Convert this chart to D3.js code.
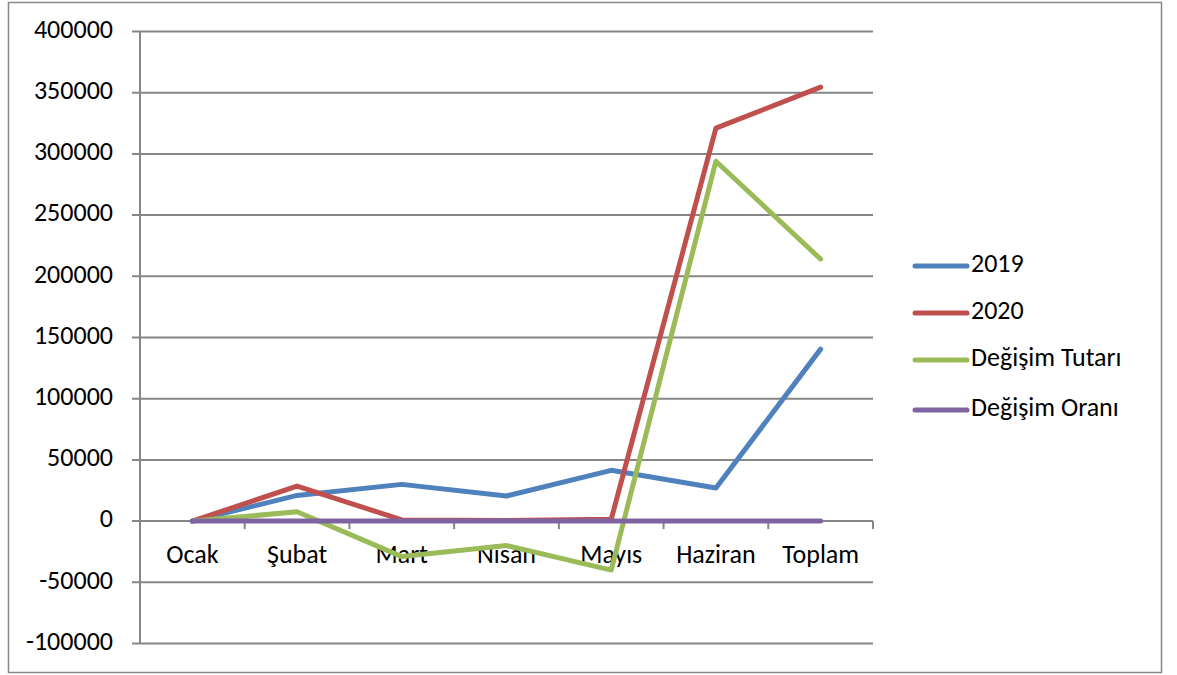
<!DOCTYPE html>
<html>
<head>
<meta charset="utf-8">
<script src="https://cdn.jsdelivr.net/npm/d3@7"></script>
<style>
  body { margin: 0; background: #fff; }
  text { font-family: Carlito, "Open Sans", sans-serif; fill: #000; }
</style>
</head>
<body>
<svg id="chart" width="1177" height="675"></svg>
<script>
// data
const months = ["Ocak", "Şubat", "Mart", "Nisan", "Mayıs", "Haziran", "Toplam"];
const v2019 = [0, 21000, 30000, 20500, 41500, 27000, 140500];
const v2020 = [0, 28600, 1000, 500, 1500, 321000, 354500];
const degisimTutari = [0, 7600, -29000, -20000, -40000, 294000, 214000];
const degisimOrani = [0, 0.36, -0.97, -0.98, -0.96, 10.9, 1.52];
const seriesNames = ["2019", "2020", "Değişim Tutarı", "Değişim Oranı"];
const yTicks = [-100000, -50000, 0, 50000, 100000, 150000, 200000, 250000, 300000, 350000, 400000];

const colors = ["#4F81BD", "#C0504D", "#9BBB59", "#8064A2"];
const seriesValues = [v2019, v2020, degisimTutari, degisimOrani];
const fontSize = 26;

const svg = d3.select("#chart");
const plotLeft = 140, plotRight = 873, plotTop = 31.5, plotBottom = 643.5;

// outer frame
svg.append("rect")
    .attr("x", 8.5).attr("y", 2.5)
    .attr("width", 1153).attr("height", 670)
    .attr("fill", "none")
    .attr("stroke", "#888")
    .attr("stroke-width", 1.5);

const x = d3.scaleBand().domain(months).range([plotLeft, plotRight]);
const y = d3.scaleLinear().domain([-100000, 400000]).range([plotBottom, plotTop]);

// grid lines
svg.append("g").selectAll("line")
    .data(yTicks)
    .join("line")
    .attr("x1", plotLeft - 8).attr("x2", plotRight)
    .attr("y1", d => y(d)).attr("y2", d => y(d))
    .attr("stroke", "#868686")
    .attr("stroke-width", 2);

// y axis line
svg.append("line")
    .attr("x1", plotLeft).attr("x2", plotLeft)
    .attr("y1", plotTop).attr("y2", plotBottom)
    .attr("stroke", "#868686")
    .attr("stroke-width", 2);

// y labels
svg.append("g").selectAll("text")
    .data(yTicks)
    .join("text")
    .attr("x", 113)
    .attr("y", d => y(d))
    .attr("text-anchor", "end")
    .attr("dominant-baseline", "middle")
    .attr("font-size", fontSize)
    .text(d => d);

// x tick marks below zero line
const xTickPos = months.map(m => x(m)).concat([plotRight]);
svg.append("g").selectAll("line")
    .data(xTickPos.slice(1))
    .join("line")
    .attr("x1", d => d).attr("x2", d => d)
    .attr("y1", y(0)).attr("y2", y(0) + 8)
    .attr("stroke", "#868686")
    .attr("stroke-width", 2);

// category labels
svg.append("g").selectAll("text")
    .data(months)
    .join("text")
    .attr("x", d => x(d) + x.bandwidth() / 2)
    .attr("y", 557)
    .attr("text-anchor", "middle")
    .attr("dominant-baseline", "middle")
    .attr("font-size", fontSize)
    .text(d => d);

// lines
const line = d3.line()
    .x((d, i) => x(months[i]) + x.bandwidth() / 2)
    .y(d => y(d));

seriesValues.forEach((vals, i) => {
    svg.append("path")
        .datum(vals)
        .attr("d", line)
        .attr("fill", "none")
        .attr("stroke", colors[i])
        .attr("stroke-width", 5)
        .attr("stroke-linejoin", "round")
        .attr("stroke-linecap", "round");
});

// legend
const legendY = [266, 313, 360, 410];
seriesNames.forEach((name, i) => {
    svg.append("line")
        .attr("x1", 915).attr("x2", 967)
        .attr("y1", legendY[i]).attr("y2", legendY[i])
        .attr("stroke", colors[i])
        .attr("stroke-width", 5)
        .attr("stroke-linecap", "round");
    svg.append("text")
        .attr("x", 971)
        .attr("y", legendY[i])
        .attr("dominant-baseline", "middle")
        .attr("font-size", fontSize)
        .text(name);
});
</script>
</body>
</html>
